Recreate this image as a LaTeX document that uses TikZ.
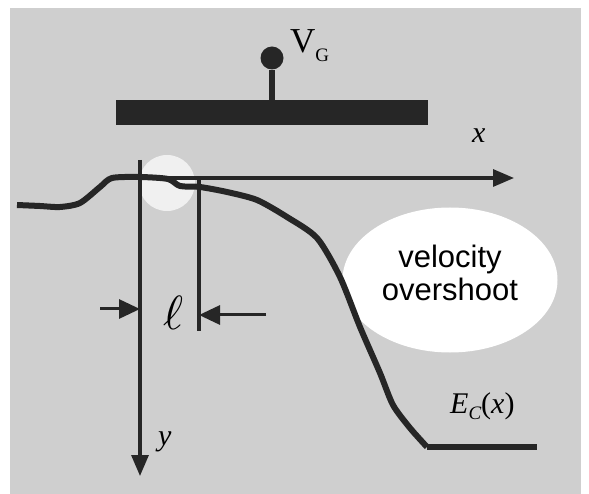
\documentclass[tikz,border=0pt]{standalone}
\usepackage{fontspec}
\usepackage{graphicx}
\setmainfont{Liberation Serif}
\newfontfamily\labelsans{Liberation Sans}
\usetikzlibrary{positioning,arrows.meta,shapes.geometric}
\definecolor{bggray}{gray}{0.81}

\begin{document}
\begin{tikzpicture}[
    x=1pt, y=-1pt,
    gatebar/.style={rectangle, fill=black!85, minimum width=312pt, minimum height=25pt, inner sep=0pt},
    gatepin/.style={circle, fill=black!85, minimum size=23pt, inner sep=0pt},
    spot/.style={circle, fill=white, opacity=0.7, minimum size=56pt, inner sep=0pt},
    bubble/.style={ellipse, fill=white, minimum width=215pt, minimum height=145pt, inner sep=0pt},
    axisline/.style={line width=3.2pt, black!85, -{Triangle[length=21pt,width=17pt]}},
    guideline/.style={line width=3.2pt, black!85},
    dimarrow/.style={line width=3pt, black!85, -{Triangle[length=21pt,width=19pt]}},
    bandedge/.style={line width=6pt, black!85, line join=round},
    varlabel/.style={font=\fontsize{30}{30}\selectfont\itshape, inner sep=0pt}
]
\useasboundingbox (0,0) rectangle (589,494);
\fill[bggray] (10,8) rectangle (581,494);

\node[spot]   (spot)   at (167,183) {};
\node[bubble] (bubble) at (450,280) {};
\node[font=\labelsans\fontsize{31}{33}\selectfont, align=center, inner sep=0pt] (vo) at (450,273) {velocity\\overshoot};

\node[gatebar] (gate) at (272,112.5) {};
\node[gatepin] (pin)  at (272,58) {};
\draw[line width=6pt, black!85] (pin) -- (gate.north -| pin);
\node[anchor=base west, inner sep=0pt, font=\fontsize{35}{35}\selectfont] (vg) at (290,53)
    {V{\fontsize{19}{19}\selectfont\raisebox{-9pt}{G}}};

\draw[bandedge] plot[smooth, tension=0.45] coordinates {
    (17,205) (40,206) (60,207) (80,203) (100,187) (112,178) (140,177) (168,179)
    (180,186) (200,187) (227,192) (257,200) (287,217) (317,238) (340,277)
    (360,327) (380,373) (393,405) (410,428) (427,447)};
\draw[bandedge] (427,447) -- (537,447);

\coordinate (xstart) at (112,178);
\coordinate (xend)   at (514,178);
\coordinate (ystart) at (140,160);
\coordinate (yend)   at (140,476);
\coordinate (ltop)   at (199,178);
\coordinate (lbot)   at (199,331);
\draw[axisline] (xstart) -- (xend);
\draw[axisline] (ystart) -- (yend);
\draw[guideline] (ltop) -- (lbot);

\coordinate (lfrom) at (100,309);
\coordinate (rfrom) at (266,315);
\draw[dimarrow] (lfrom) -- (lfrom -| ystart);
\draw[dimarrow] (rfrom) -- (rfrom -| ltop);
\node[inner sep=0pt] (ell) at (173,313) {\scalebox{4.8}{$\ell$}};

\node[varlabel, anchor=base west] (xlab) at (472,143) {x};
\node[varlabel, anchor=base west] (ylab) at (158,445) {y};
\node[varlabel, anchor=base west] (eclab) at (450,413)
    {E{\fontsize{19}{19}\selectfont\raisebox{-6pt}{C}}\upshape(\itshape x\upshape)};
\end{tikzpicture}
\end{document}
